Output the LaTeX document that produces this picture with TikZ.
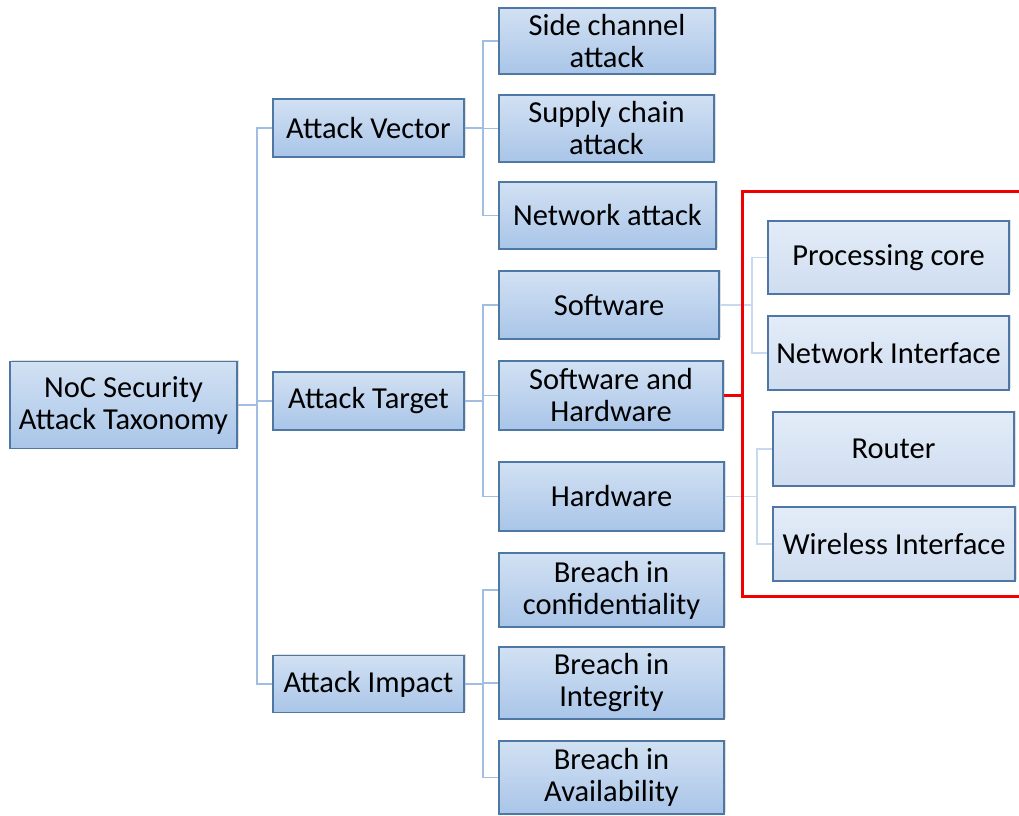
\documentclass[tikz,border=0pt]{standalone}
\usepackage{fontspec}
\setmainfont{Carlito}
\usetikzlibrary{shadows}
\definecolor{boxline}{HTML}{4F77A3}
\definecolor{topA}{HTML}{D2E1F3}
\definecolor{botA}{HTML}{A9C5E8}
\definecolor{topB}{HTML}{E3ECF8}
\definecolor{botB}{HTML}{CFDDF0}
\definecolor{connA}{HTML}{A0BEE2}
\definecolor{connB}{HTML}{C8D8EE}
\definecolor{redframe}{HTML}{F00000}
\tikzset{
  box/.style={draw=boxline, line width=1.3pt, align=center, inner sep=2pt,
    font=\fontsize{30.5}{32}\selectfont, text=black,
    drop shadow={shadow xshift=1.5pt, shadow yshift=1.5pt, opacity=0.25}},
  darkbox/.style={box, top color=topA, bottom color=botA},
  lightbox/.style={box, top color=topB, bottom color=botB},
  conn/.style={draw=connA, line width=1.8pt},
  connlight/.style={draw=connB, line width=1.8pt},
}
\begin{document}
\begin{tikzpicture}[x=1pt,y=-1pt]
\useasboundingbox (0,0) rectangle (1019,815);
% root and first level
\node[darkbox, minimum width=227pt, minimum height=87pt] (root) at (123.5,405) {NoC Security\\Attack Taxonomy};
\node[darkbox, minimum width=191pt, minimum height=58pt] (av) at (368.5,128) {Attack Vector};
\node[darkbox, minimum width=191pt, minimum height=58pt] (at) at (368.5,401) {Attack Target};
\node[darkbox, minimum width=191pt, minimum height=57pt] (ai) at (368.5,684) {Attack Impact};
% attack vector children
\node[darkbox, minimum width=216pt, minimum height=66pt] (sca) at (607,41) {Side channel\\attack};
\node[darkbox, minimum width=215pt, minimum height=67pt] (sup) at (606.5,128.5) {Supply chain\\attack};
\node[darkbox, minimum width=217pt, minimum height=67pt] (net) at (607.5,215.5) {Network attack};
% attack target children
\node[darkbox, minimum width=220pt, minimum height=68pt] (sw) at (609,305) {Software};
\node[darkbox, minimum width=224pt, minimum height=69pt] (swhw) at (611,395.5) {Software and\\Hardware};
\node[darkbox, minimum width=225pt, minimum height=69pt] (hw) at (611.5,496.5) {Hardware};
% attack impact children
\node[darkbox, minimum width=225pt, minimum height=74pt] (conf) at (611.5,590) {Breach in\\confidentiality};
\node[darkbox, minimum width=225pt, minimum height=72pt] (integ) at (611.5,683) {Breach in\\Integrity};
\node[darkbox, minimum width=225pt, minimum height=73pt] (avail) at (611.5,777.5) {Breach in\\Availability};
% hardware components
\node[lightbox, minimum width=241pt, minimum height=73pt] (core) at (888.5,257.5) {Processing core};
\node[lightbox, minimum width=241pt, minimum height=74pt] (ni) at (888.5,353) {Network Interface};
\node[lightbox, minimum width=241pt, minimum height=74pt] (rt) at (893.5,449) {Router};
\node[lightbox, minimum width=242pt, minimum height=74pt] (wi) at (894,544) {Wireless Interface};
% connectors
\foreach \c in {av,at,ai}
  \draw[conn] (root.east) -- ++(19,0) |- (\c.west);
\foreach \c in {sca,sup,net}
  \draw[conn] (av.east) -- ++(18,0) |- (\c.west);
\foreach \c in {sw,swhw,hw}
  \draw[conn] (at.east) -- ++(18,0) |- (\c.west);
\foreach \c in {conf,integ,avail}
  \draw[conn] (ai.east) -- ++(18,0) |- (\c.west);
\foreach \c in {core,ni}
  \draw[connlight] (sw.east) -- ++(32,0) |- (\c.west);
\foreach \c in {rt,wi}
  \draw[connlight] (hw.east) -- ++(32,0) |- (\c.west);
% red frame around the hardware components
\coordinate (frameTL) at (742,191);
\draw[redframe, line width=3pt] (1022,191) -- (frameTL) -- (742,596) -- (1022,596);
\draw[redframe, line width=2.5pt] (swhw.east) -- (swhw.east -| frameTL);
\end{tikzpicture}
\end{document}
